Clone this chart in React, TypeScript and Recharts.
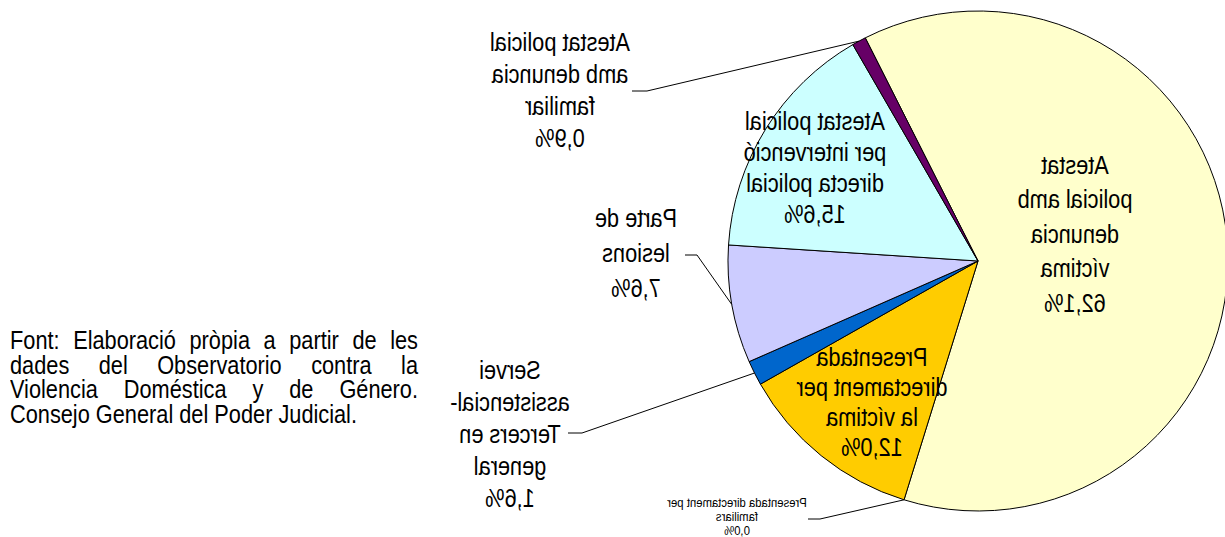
import React from "react";
import { PieChart, Pie, Cell } from "recharts";

const categories = [
  "Atestat policial amb denuncia víctima",
  "Presentada directament per familiars",
  "Presentada directament per la víctima",
  "Servei assistencial-Tercers en general",
  "Parte de lesions",
  "Atestat policial per intervenció directa policial",
  "Atestat policial amb denuncia familiar",
];
const values = [62.1, 0.0, 12.0, 1.6, 7.6, 15.6, 0.9];
const valueLabels = ["62,1%", "0,0%", "12,0%", "1,6%", "7,6%", "15,6%", "0,9%"];
const labelLines = [
  ["Atestat", "policial amb", "denuncia", "víctima"],
  ["Presentada directament per", "familiars"],
  ["Presentada", "directament per", "la víctima"],
  ["Servei", "assistencial-", "Tercers en", "general"],
  ["Parte de", "lesions"],
  ["Atestat policial", "per intervenció", "directa policial"],
  ["Atestat policial", "amb denuncia", "familiar"],
];
const sourceLines = [
  "Font: Elaboració pròpia a partir de les",
  "dades del Observatorio contra la",
  "Violencia Doméstica y de Género.",
  "Consejo General del Poder Judicial.",
];

const colors = ["#FFFFCC", "#FFCC00", "#FFCC00", "#0066CC", "#CCCCFF", "#CCFFFF", "#660066"];

// label placement (fractions of outer radius, relative to the pie centre)
const labelLayout = [
  { dx: 0.388, dy: -0.108, lh: 34.5, fs: 25 },
  { dx: -0.964, dy: 1.024, lh: 14, fs: 13, elbow: 83, elbowDy: 2, stub: 12 },
  { dx: -0.424, dy: 0.564, lh: 30, fs: 25 },
  { dx: -1.872, dy: 0.692, lh: 32, fs: 25, elbow: 72, elbowDy: -1, stub: 14 },
  { dx: -1.368, dy: -0.032, lh: 35, fs: 25, elbow: 61, elbowDy: 2, stub: 12 },
  { dx: -0.652, dy: -0.372, lh: 31, fs: 25 },
  { dx: -1.672, dy: -0.684, lh: 32, fs: 25, elbow: 87, elbowDy: 1, stub: 15 },
];

const data = categories.map((name, i) => ({ name, value: values[i] }));

const FONT = "'Liberation Sans', Arial, sans-serif";
const NARROW = 0.87;
const RAD = Math.PI / 180;

const renderLabel = (p: any) => {
  const { cx, cy, midAngle, outerRadius, index } = p;
  const L: any = labelLayout[index];
  const x = cx + L.dx * outerRadius;
  const y = cy + L.dy * outerRadius;
  const lines = [...labelLines[index], valueLabels[index]];
  const top = y - ((lines.length - 1) / 2) * L.lh;
  let leader = null;
  if (L.elbow) {
    const ex = cx + outerRadius * Math.cos(-midAngle * RAD);
    const ey = cy + outerRadius * Math.sin(-midAngle * RAD);
    const bx = x + L.elbow;
    const by = y + L.elbowDy;
    leader = (
      <polyline
        points={`${ex},${ey} ${bx},${by} ${bx - L.stub},${by}`}
        fill="none"
        stroke="#000"
        strokeWidth={1}
      />
    );
  }
  return (
    <g key={`lbl-${index}`}>
      {leader}
      <g transform={`translate(${x},${top}) scale(${-NARROW},1)`}>
        {lines.map((t, i) => (
          <text
            key={i}
            x={0}
            y={i * L.lh}
            textAnchor="middle"
            dominantBaseline="central"
            fontFamily={FONT}
            fontSize={L.fs}
            fill="#000"
          >
            {t}
          </text>
        ))}
      </g>
    </g>
  );
};

export default function App() {
  const srcWidth = 408;
  return (
    <div
      style={{
        position: "absolute",
        left: 0,
        top: 0,
        width: 1225,
        height: 537,
        background: "#fff",
        overflow: "hidden",
      }}
    >
      <PieChart width={1225} height={537} margin={{ top: 0, right: 0, bottom: 0, left: 0 }}>
        <Pie
          data={data}
          dataKey="value"
          nameKey="name"
          cx={978}
          cy={261}
          outerRadius={250}
          startAngle={116.8}
          endAngle={-243.2}
          stroke="#000"
          strokeWidth={1}
          label={renderLabel}
          labelLine={false}
          isAnimationActive={false}
        >
          {data.map((d, i) => (
            <Cell key={d.name} fill={colors[i]} />
          ))}
        </Pie>
      </PieChart>
      <div
        style={{
          position: "absolute",
          left: 10,
          top: 328,
          width: srcWidth / NARROW,
          transform: `scaleX(${NARROW})`,
          transformOrigin: "0 0",
          fontFamily: FONT,
          fontSize: 25,
          lineHeight: "24.5px",
          color: "#000",
        }}
      >
        {sourceLines.map((l, i) => (
          <div
            key={i}
            style={{
              textAlign: i < sourceLines.length - 1 ? "justify" : "left",
              textAlignLast: i < sourceLines.length - 1 ? "justify" : "left",
            }}
          >
            {l}
          </div>
        ))}
      </div>
    </div>
  );
}
